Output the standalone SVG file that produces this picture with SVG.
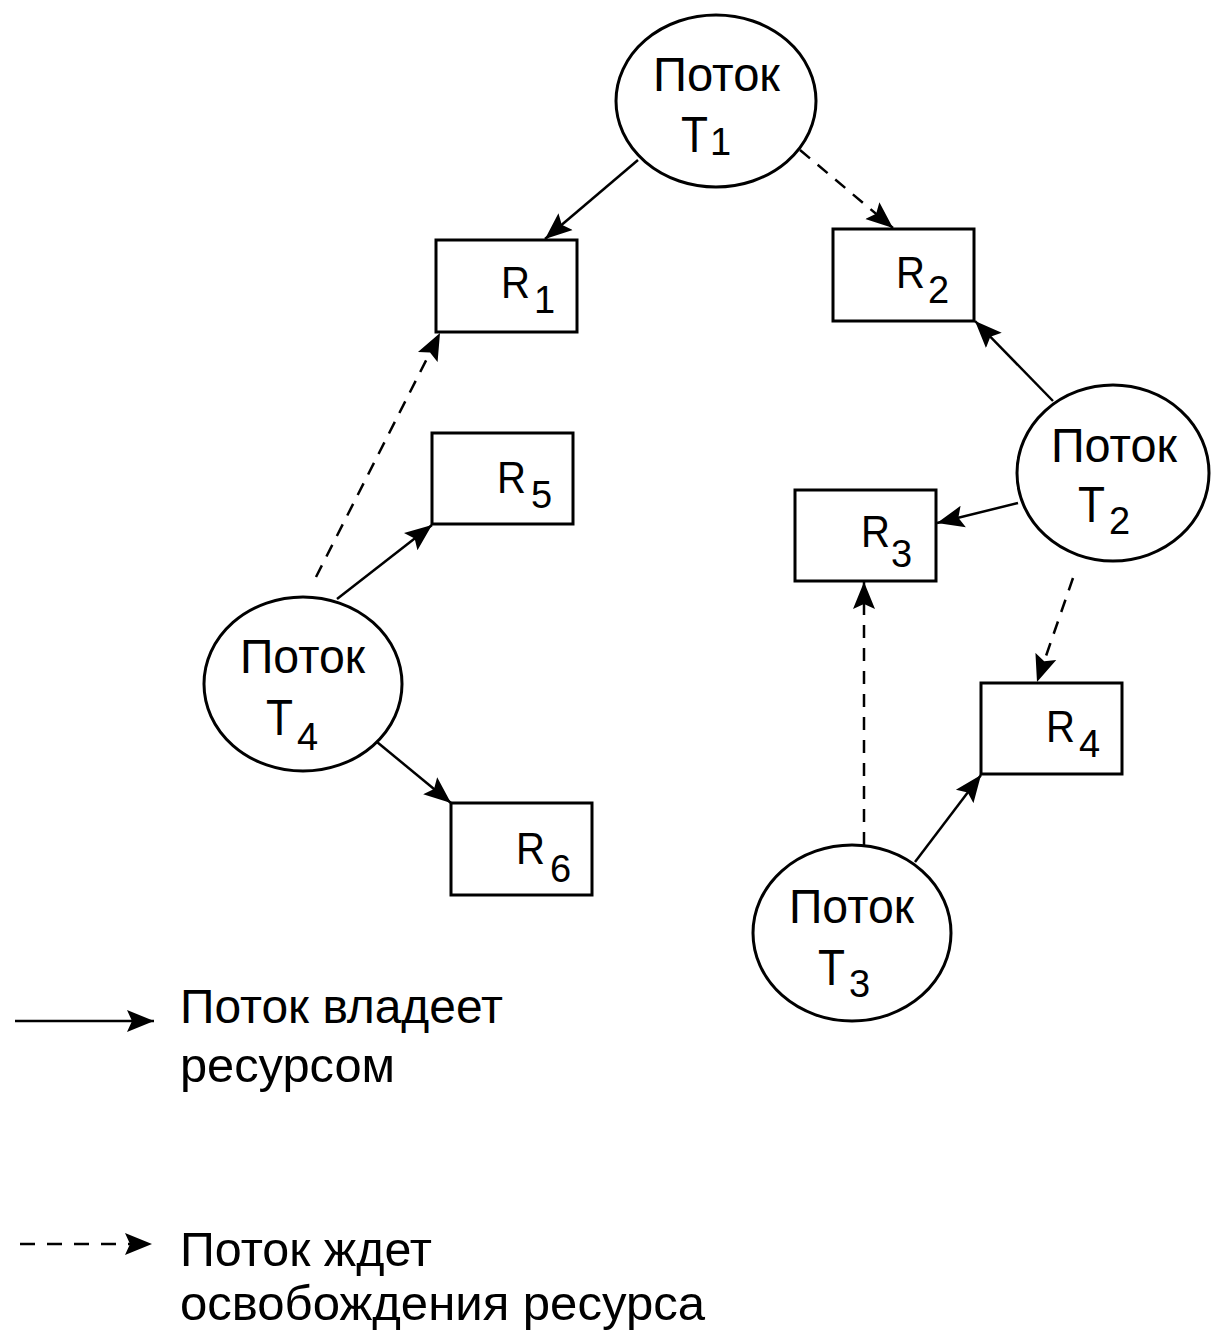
<svg xmlns="http://www.w3.org/2000/svg" width="1211" height="1335" viewBox="0 0 1211 1335">
  <style>
    .thread { fill: #ffffff; stroke: #000000; stroke-width: 3; }
    .res { fill: #ffffff; stroke: #000000; stroke-width: 3; }
    .lbl { font-family: "Liberation Sans", Arial, sans-serif; fill: #000000; }
    .word { font-size: 48px; }
    .tch { font-size: 50px; }
    .rch { font-size: 44px; }
    .sub { font-size: 38px; }
    .legend { font-family: "Liberation Sans", Arial, sans-serif; font-size: 48px; fill: #000000; }
    .owns { fill: none; stroke: #000000; stroke-width: 2.5; marker-end: url(#head); }
    .waits { fill: none; stroke: #000000; stroke-width: 2.5; stroke-dasharray: 13 10; marker-end: url(#head); }
  </style>
  <defs>
    <marker id="head" markerUnits="userSpaceOnUse" markerWidth="28" markerHeight="24" refX="27" refY="12" orient="auto">
      <path d="M0,1 L27,12 L0,23 L5,12 z" fill="#000000" stroke="none"/>
    </marker>
  </defs>

  <rect width="1211" height="1335" fill="#ffffff"/>

  <!-- connectors -->
  <g id="connectors">
    <line class="owns" x1="638" y1="160" x2="545" y2="239"/>
    <line class="waits" x1="800" y1="150" x2="893" y2="228"/>
    <line class="owns" x1="1053" y1="401" x2="975" y2="321"/>
    <line class="owns" x1="1018" y1="503" x2="937" y2="523"/>
    <line class="waits" x1="1073" y1="578" x2="1037" y2="682"/>
    <line class="waits" x1="864" y1="845" x2="864" y2="582"/>
    <line class="owns" x1="915" y1="862" x2="981" y2="775"/>
    <line class="owns" x1="337" y1="599" x2="432" y2="525"/>
    <line class="waits" x1="316" y1="577" x2="440" y2="333"/>
    <line class="owns" x1="377" y1="742" x2="451" y2="803"/>
  </g>

  <!-- threads -->
  <g id="T1">
    <ellipse class="thread" cx="716" cy="101" rx="100" ry="86"/>
    <text class="lbl word" x="653" y="91" textLength="127" lengthAdjust="spacingAndGlyphs">Поток</text>
    <text class="lbl tch" x="681" y="152" textLength="27" lengthAdjust="spacingAndGlyphs">T</text>
    <text class="lbl sub" x="710" y="155">1</text>
  </g>
  <g id="T2">
    <ellipse class="thread" cx="1113" cy="473" rx="96" ry="88"/>
    <text class="lbl word" x="1051" y="462" textLength="126" lengthAdjust="spacingAndGlyphs">Поток</text>
    <text class="lbl tch" x="1078" y="522" textLength="27" lengthAdjust="spacingAndGlyphs">T</text>
    <text class="lbl sub" x="1109" y="534">2</text>
  </g>
  <g id="T3">
    <ellipse class="thread" cx="852" cy="933" rx="99" ry="88"/>
    <text class="lbl word" x="789" y="923" textLength="125" lengthAdjust="spacingAndGlyphs">Поток</text>
    <text class="lbl tch" x="818" y="985" textLength="27" lengthAdjust="spacingAndGlyphs">T</text>
    <text class="lbl sub" x="849" y="997">3</text>
  </g>
  <g id="T4">
    <ellipse class="thread" cx="303" cy="684" rx="99" ry="87"/>
    <text class="lbl word" x="240" y="673" textLength="125" lengthAdjust="spacingAndGlyphs">Поток</text>
    <text class="lbl tch" x="266" y="735" textLength="27" lengthAdjust="spacingAndGlyphs">T</text>
    <text class="lbl sub" x="297" y="750">4</text>
  </g>

  <!-- resources -->
  <g id="R1">
    <rect class="res" x="436" y="240" width="141" height="92"/>
    <text class="lbl rch" x="501" y="298" textLength="29" lengthAdjust="spacingAndGlyphs">R</text>
    <text class="lbl sub" x="534" y="313">1</text>
  </g>
  <g id="R2">
    <rect class="res" x="833" y="229" width="141" height="92"/>
    <text class="lbl rch" x="896" y="288" textLength="29" lengthAdjust="spacingAndGlyphs">R</text>
    <text class="lbl sub" x="928" y="303">2</text>
  </g>
  <g id="R3">
    <rect class="res" x="795" y="490" width="141" height="91"/>
    <text class="lbl rch" x="861" y="547" textLength="29" lengthAdjust="spacingAndGlyphs">R</text>
    <text class="lbl sub" x="891" y="567">3</text>
  </g>
  <g id="R4">
    <rect class="res" x="981" y="683" width="141" height="91"/>
    <text class="lbl rch" x="1046" y="742" textLength="29" lengthAdjust="spacingAndGlyphs">R</text>
    <text class="lbl sub" x="1079" y="757">4</text>
  </g>
  <g id="R5">
    <rect class="res" x="432" y="433" width="141" height="91"/>
    <text class="lbl rch" x="497" y="493" textLength="29" lengthAdjust="spacingAndGlyphs">R</text>
    <text class="lbl sub" x="531" y="508">5</text>
  </g>
  <g id="R6">
    <rect class="res" x="451" y="803" width="141" height="92"/>
    <text class="lbl rch" x="516" y="864" textLength="29" lengthAdjust="spacingAndGlyphs">R</text>
    <text class="lbl sub" x="550" y="882">6</text>
  </g>

  <!-- legend -->
  <g id="legend">
    <line class="owns" x1="15" y1="1021" x2="154" y2="1021"/>
    <text class="legend" x="180" y="1023" textLength="323" lengthAdjust="spacingAndGlyphs">Поток владеет</text>
    <text class="legend" x="180" y="1082" textLength="215" lengthAdjust="spacingAndGlyphs">ресурсом</text>
    <line class="waits" x1="20" y1="1244" x2="152" y2="1244" style="stroke-dasharray: 15 12"/>
    <text class="legend" x="180" y="1266" textLength="252" lengthAdjust="spacingAndGlyphs">Поток ждет</text>
    <text class="legend" x="180" y="1320" textLength="525" lengthAdjust="spacingAndGlyphs">освобождения ресурса</text>
  </g>
</svg>
